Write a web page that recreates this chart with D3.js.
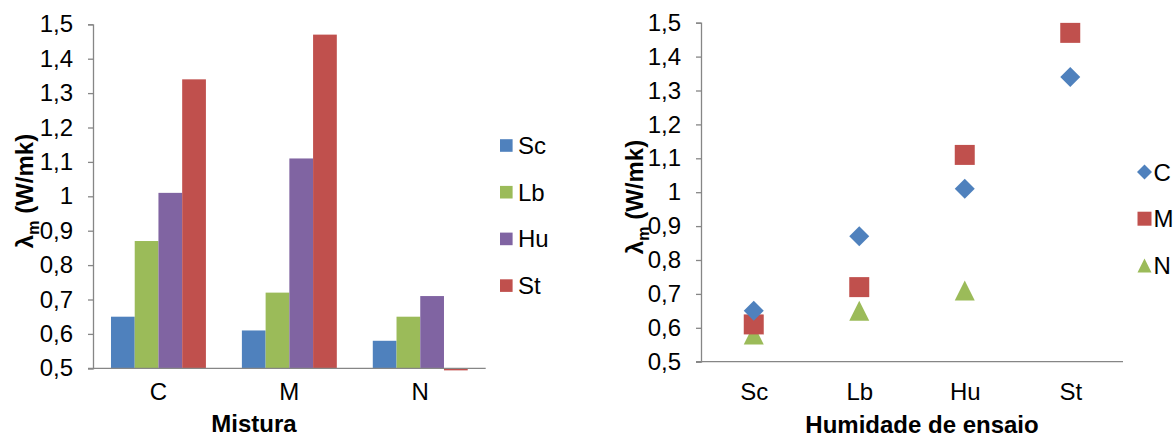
<!DOCTYPE html>
<html>
<head>
<meta charset="utf-8">
<script src="https://cdn.jsdelivr.net/npm/d3@7"></script>
<style>
  html, body { margin: 0; padding: 0; background: #fff; }
  svg { display: block; }
  text { font-family: "Liberation Sans", Arial, sans-serif; fill: #000; }
</style>
</head>
<body>
<svg id="chart" width="1176" height="437"></svg>
<script>
// Mixes (Mistura) and test humidity conditions (Humidade de ensaio)
const mixes = ["C", "M", "N"];
const humidities = ["Sc", "Lb", "Hu", "St"];

// Thermal conductivity λm (W/mk) per mix, in humidity order Sc, Lb, Hu, St
const valuesC = [0.65, 0.87, 1.01, 1.34];
const valuesM = [0.61, 0.72, 1.11, 1.47];
const valuesN = [0.58, 0.65, 0.71, 0.494];

const yTicks = [0.5, 0.6, 0.7, 0.8, 0.9, 1.0, 1.1, 1.2, 1.3, 1.4, 1.5];
const yDomain = [0.5, 1.5];

const humidityColors = ["#4F81BD", "#9BBB59", "#8064A2", "#C0504D"];
const mixColors = ["#4F81BD", "#C0504D", "#9BBB59"];
const axisColor = "#868686";
const FS = "24px";

const byMix = [valuesC, valuesM, valuesN];
const fmt = v => (Math.round(v * 10) / 10).toString().replace(".", ",");

const svg = d3.select("#chart");

function drawYAxis(g, y, x0) {
  const ax = g.append("g").attr("transform", `translate(${x0},0)`)
    .call(d3.axisLeft(y).tickValues(yTicks).tickFormat(fmt).tickSizeOuter(0).tickSize(5).tickPadding(15));
  ax.select(".domain").attr("stroke", axisColor).attr("stroke-width", 1.3);
  ax.selectAll(".tick line").attr("stroke", axisColor).attr("stroke-width", 1.3);
  ax.selectAll(".tick text").style("font-size", FS).attr("fill", "#000");
  return ax;
}

function yTitle(g, x, yc) {
  const t = g.append("text")
    .attr("transform", `translate(${x},${yc}) rotate(-90)`)
    .attr("text-anchor", "middle")
    .style("font-size", FS).style("font-weight", "bold");
  t.append("tspan").text("λ");
  t.append("tspan").attr("dy", 6).style("font-size", "16px").text("m");
  t.append("tspan").attr("dy", -6).text(" (W/mk)");
}

// ---------- Left: grouped bars by mix ----------
const L = { left: 93, right: 485.7, top: 24.3, bottom: 368.3 };
const gL = svg.append("g");
const yL = d3.scaleLinear().domain(yDomain).range([L.bottom, L.top]);
const x0 = d3.scaleBand().domain(mixes).range([L.left, L.right]).padding(0);
const x1 = d3.scaleBand().domain(humidities).range([0, x0.bandwidth()])
  .paddingInner(0).paddingOuter(0.758);

const groups = gL.append("g").selectAll("g").data(mixes).join("g")
  .attr("transform", d => `translate(${x0(d)},0)`);
groups.selectAll("rect")
  .data((m, i) => humidities.map((h, j) => ({ h, v: byMix[i][j], c: humidityColors[j] })))
  .join("rect")
  .attr("x", d => x1(d.h))
  .attr("width", x1.bandwidth())
  .attr("y", d => Math.min(yL(d.v), yL(yDomain[0])))
  .attr("height", d => Math.abs(yL(d.v) - yL(yDomain[0])))
  .attr("fill", d => d.c);

drawYAxis(gL, yL, L.left);
// category axis
const axL = gL.append("g").attr("transform", `translate(0,${L.bottom})`)
  .call(d3.axisBottom(x0).tickSize(0).tickSizeOuter(0).tickPadding(15));
axL.select(".domain").attr("stroke", axisColor).attr("stroke-width", 1.3)
  .attr("d", `M${L.left - 5},0H${L.right}`);
axL.selectAll(".tick text").style("font-size", FS).attr("fill", "#000");

gL.append("text").attr("x", 254).attr("y", 432)
  .attr("text-anchor", "middle").style("font-size", FS).style("font-weight", "bold")
  .text("Mistura");
yTitle(gL, 33, 191);

// legend (humidity)
const legL = gL.append("g").selectAll("g").data(humidities).join("g")
  .attr("transform", (d, i) => `translate(500,${145.5 + i * 46.7})`);
legL.append("rect").attr("x", 0).attr("y", -6.3).attr("width", 12.6).attr("height", 12.6)
  .attr("fill", (d, i) => humidityColors[i]);
legL.append("text").attr("x", 18).attr("y", 8.5).style("font-size", FS).text(d => d);

// ---------- Right: scatter by humidity ----------
const R = { left: 701, right: 1123, top: 22.7, bottom: 361.7 };
const gR = svg.append("g");
const yR = d3.scaleLinear().domain(yDomain).range([R.bottom, R.top]);
const xR = d3.scalePoint().domain(humidities).range([R.left, R.right]).padding(0.5);

const triangle = {
  draw(ctx, size) {
    const w = Math.sqrt(size), h = w;
    ctx.moveTo(0, -h / 2);
    ctx.lineTo(w / 2, h / 2);
    ctx.lineTo(-w / 2, h / 2);
    ctx.closePath();
  }
};
const diamond = {
  draw(ctx, size) {
    const r = Math.sqrt(size) / 2;
    ctx.moveTo(0, -r); ctx.lineTo(r, 0); ctx.lineTo(0, r); ctx.lineTo(-r, 0); ctx.closePath();
  }
};
const square = {
  draw(ctx, size) {
    const r = Math.sqrt(size) / 2;
    ctx.rect(-r, -r, 2 * r, 2 * r);
  }
};
const mixShapes = [diamond, square, triangle];
const markerSize = [400, 400, 400];

drawYAxis(gR, yR, R.left);
const axR = gR.append("g").attr("transform", `translate(0,${R.bottom})`)
  .call(d3.axisBottom(xR).tickSize(0).tickSizeOuter(0).tickPadding(21));
axR.select(".domain").attr("stroke", axisColor).attr("stroke-width", 1.3)
  .attr("d", `M${R.left - 5},0H${R.right}`);
axR.selectAll(".tick text").style("font-size", FS).attr("fill", "#000");

// N first, then M, then C so C sits on top
const order = [2, 1, 0];
order.forEach(i => {
  const pts = humidities.map((h, j) => ({ h, v: byMix[i][j] }))
    .filter(d => d.v >= yDomain[0] && d.v <= yDomain[1]);
  gR.append("g").selectAll("path").data(pts).join("path")
    .attr("transform", d => `translate(${xR(d.h)},${yR(d.v)})`)
    .attr("d", d3.symbol().type(mixShapes[i]).size(markerSize[i]))
    .attr("fill", mixColors[i]);
});

gR.append("text").attr("x", 922).attr("y", 433)
  .attr("text-anchor", "middle").style("font-size", FS).style("font-weight", "bold")
  .text("Humidade de ensaio");
yTitle(gR, 643, 197);

// legend (mix)
const legR = gR.append("g").selectAll("g").data(mixes).join("g")
  .attr("transform", (d, i) => `translate(1144.5,${172 + i * 46.7})`);
legR.append("path")
  .attr("d", (d, i) => d3.symbol().type(mixShapes[i]).size(i === 0 ? 225 : 196)())
  .attr("fill", (d, i) => mixColors[i]);
legR.append("text").attr("x", 9).attr("y", 8.5).style("font-size", FS).text(d => d);
</script>
</body>
</html>
